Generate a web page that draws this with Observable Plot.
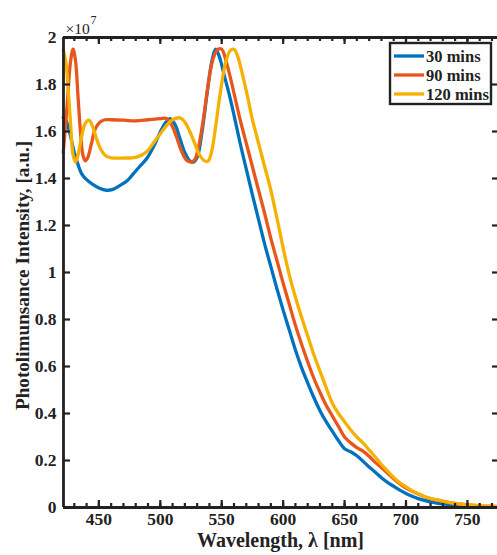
<!DOCTYPE html>
<html>
<head>
<meta charset="utf-8">
<script src="https://cdn.jsdelivr.net/npm/d3@7"></script>
<script src="https://cdn.jsdelivr.net/npm/@observablehq/plot@0.6"></script>
<style>
  html, body { margin: 0; padding: 0; background: white; }
  #chart { position: relative; width: 497px; height: 555px; overflow: hidden; }
</style>
</head>
<body>
<div id="chart"></div>
<script>
// ---- data (PL intensity in units of 1e7) ----
const seriesNames = ["30 mins", "90 mins", "120 mins"];
const seriesColors = ["#0072BD", "#E9561B", "#F6B100"];

const wl30 = [421,423,426,430,433,436,440,445,450,456,462,467,473,478,483,489,495,500,504,508,512,516,520,524,527,530,534,538,542,545,548,552,556,560,565,570,575,580,585,590,595,600,605,610,615,620,625,630,635,640,645,650,655,660,665,670,675,680,685,690,695,700,705,710,715,720,725,730,735,740,745,750,760,775];
const pl30 = [1.66,1.65,1.60,1.51,1.46,1.42,1.395,1.375,1.36,1.35,1.355,1.37,1.39,1.42,1.45,1.485,1.54,1.598,1.635,1.655,1.63,1.57,1.51,1.475,1.47,1.49,1.60,1.76,1.90,1.95,1.92,1.84,1.76,1.67,1.55,1.44,1.33,1.225,1.12,1.025,0.93,0.84,0.755,0.67,0.595,0.53,0.468,0.412,0.365,0.325,0.285,0.25,0.237,0.22,0.197,0.172,0.15,0.127,0.107,0.09,0.074,0.06,0.048,0.038,0.03,0.024,0.019,0.015,0.012,0.009,0.007,0.005,0.003,0.002];

const wl90 = [421,424,427,429,431,433,435,437,439,441,444,447,451,455,460,470,480,490,500,505,509,513,517,521,525,528,531,535,539,543,547,550,553,557,561,565,570,575,580,585,590,595,600,605,610,615,620,625,630,635,640,645,650,655,660,665,670,675,680,685,690,695,700,705,710,715,720,725,730,735,740,745,750,760,775];
const pl90 = [1.51,1.70,1.90,1.95,1.90,1.75,1.60,1.50,1.475,1.49,1.55,1.61,1.64,1.65,1.65,1.648,1.645,1.65,1.655,1.655,1.63,1.58,1.52,1.48,1.47,1.48,1.53,1.65,1.80,1.91,1.95,1.95,1.91,1.83,1.74,1.65,1.55,1.45,1.35,1.25,1.145,1.05,0.955,0.865,0.775,0.695,0.62,0.55,0.49,0.435,0.39,0.345,0.30,0.275,0.255,0.24,0.218,0.192,0.17,0.146,0.122,0.10,0.083,0.069,0.057,0.046,0.038,0.032,0.026,0.021,0.017,0.014,0.011,0.007,0.004];

const wl120 = [421,423,425,427,429,431,433,436,439,442,445,448,452,456,460,470,480,485,490,495,500,505,510,516,520,524,528,532,536,539,542,545,549,553,557,560,563,567,571,575,580,585,590,595,600,605,610,615,620,625,630,635,640,645,650,655,660,665,670,675,680,685,690,695,700,705,710,715,720,725,730,740,750,760,775];
const pl120 = [1.946,1.90,1.78,1.63,1.50,1.47,1.50,1.58,1.635,1.648,1.62,1.57,1.52,1.495,1.488,1.487,1.49,1.50,1.52,1.555,1.59,1.625,1.65,1.658,1.64,1.60,1.55,1.50,1.475,1.475,1.52,1.62,1.77,1.89,1.945,1.95,1.92,1.84,1.75,1.65,1.55,1.45,1.35,1.23,1.105,0.99,0.895,0.81,0.73,0.65,0.58,0.51,0.445,0.40,0.365,0.33,0.30,0.275,0.245,0.215,0.183,0.155,0.128,0.105,0.088,0.071,0.058,0.047,0.039,0.033,0.027,0.018,0.012,0.008,0.005];

const xTicks = [450, 500, 550, 600, 650, 700, 750];
const xMinorTicks = d3.range(430, 775, 10);
const yTicks = [0, 0.2, 0.4, 0.6, 0.8, 1, 1.2, 1.4, 1.6, 1.8, 2];
const yTickLabels = ["0", "0.2", "0.4", "0.6", "0.8", "1", "1.2", "1.4", "1.6", "1.8", "2"];
const xLabel = "Wavelength, λ [nm]";
const yLabel = "Photolimunsance Intensity, [a.u.]";

const rows = [];
[[wl30, pl30], [wl90, pl90], [wl120, pl120]].forEach(([w, p], i) => {
  w.forEach((x, j) => rows.push({series: seriesNames[i], wl: x, pl: p[j]}));
});

const W = 497, H = 555, mL = 63, mR = 0, mT = 37, mB = 48;
const plotW = W - mL - mR, plotH = H - mT - mB;
const font = "'Liberation Serif', 'Times New Roman', serif";

const chart = Plot.plot({
  width: W, height: H,
  marginLeft: mL, marginRight: mR, marginTop: mT, marginBottom: mB,
  x: {domain: [421.2, 774.5], axis: null},
  y: {domain: [0, 2], axis: null},
  color: {domain: seriesNames, range: seriesColors},
  style: {fontFamily: font, fontWeight: "bold", fontSize: "17.5px", background: "white", color: "black"},
  marks: [
    Plot.line(rows, {x: "wl", y: "pl", z: "series", stroke: "series", strokeWidth: 3.3, curve: "catmull-rom"}),
    // frame: left, bottom, top
    Plot.ruleX([421.2], {stroke: "#222", strokeWidth: 2.8}),
    Plot.ruleY([0], {stroke: "#222", strokeWidth: 2.8}),
    Plot.ruleY([2], {stroke: "#222", strokeWidth: 2.8}),
    // inward ticks bottom/top
    Plot.ruleX(xTicks, {stroke: "#222", strokeWidth: 2.2, insetTop: plotH - 7}),
    Plot.ruleX(xMinorTicks, {stroke: "#222", strokeWidth: 2.2, insetTop: plotH - 4}),
    Plot.ruleX(xTicks, {stroke: "#222", strokeWidth: 2.2, insetBottom: plotH - 7}),
    Plot.ruleX(xMinorTicks, {stroke: "#222", strokeWidth: 2.2, insetBottom: plotH - 4}),
    // inward ticks left/right
    Plot.ruleY(yTicks, {stroke: "#222", strokeWidth: 2.2, insetRight: plotW - 7}),
    Plot.ruleY(yTicks, {stroke: "#222", strokeWidth: 2.2, insetLeft: plotW - 5}),
    // tick labels
    Plot.text(xTicks, {x: d => d, frameAnchor: "bottom", dy: 17, text: d => String(d), fill: "#222"}),
    Plot.text(yTicks, {y: d => d, frameAnchor: "left", dx: -7, textAnchor: "end", text: (d, i) => yTickLabels[i], fill: "#222"}),
    // axis titles
    Plot.text([xLabel], {frameAnchor: "bottom", dy: 39, fontSize: 20, text: d => d, fill: "#222"}),
    Plot.text([yLabel], {frameAnchor: "left", textAnchor: "middle", dx: -41, dy: 3, rotate: -90, fontSize: 19.2, text: d => d, fill: "#222"}),
    // exponent
    Plot.text(["×10"], {frameAnchor: "top-left", dx: 2, dy: -4, lineAnchor: "bottom", textAnchor: "start", fontWeight: "normal", fontSize: 15.5, text: d => d, fill: "#222"}),
    Plot.text(["7"], {frameAnchor: "top-left", dx: 27, dy: -14, lineAnchor: "bottom", textAnchor: "start", fontWeight: "normal", fontSize: 12, text: d => d, fill: "#222"})
  ]
});

// legend inside the plot (top-right)
const svg = d3.select(chart);
const lg = svg.append("g").attr("font-family", font).attr("font-weight", "bold")
  .attr("font-size", 16.5).attr("text-anchor", "start");
lg.append("rect").attr("x", 390).attr("y", 43).attr("width", 101).attr("height", 61)
  .attr("fill", "white").attr("stroke", "#222").attr("stroke-width", 2.4);
seriesNames.forEach((name, i) => {
  const cy = 56 + i * 19;
  lg.append("line").attr("x1", 394).attr("x2", 424).attr("y1", cy).attr("y2", cy)
    .attr("stroke", seriesColors[i]).attr("stroke-width", 3.3);
  lg.append("text").attr("x", 426).attr("y", cy).attr("dy", "0.35em").attr("fill", "#222").text(name);
});

document.getElementById("chart").appendChild(chart);
</script>
</body>
</html>
